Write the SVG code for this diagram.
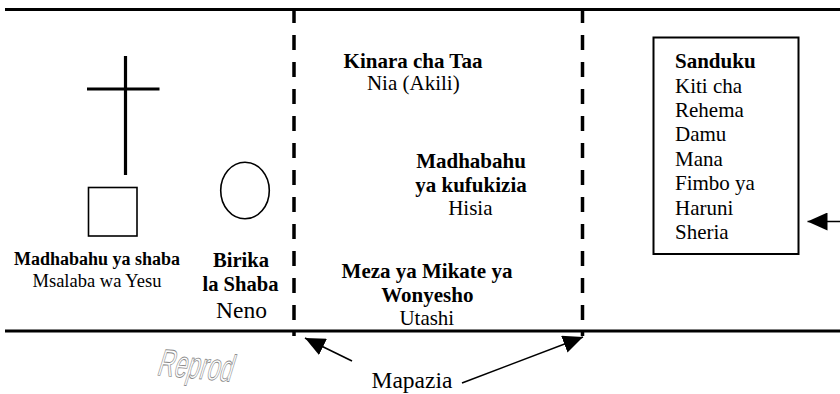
<svg xmlns="http://www.w3.org/2000/svg" width="840" height="394" viewBox="0 0 840 394">
  <defs>
    <style>
      .t { font-family: "Liberation Serif", "Times New Roman", serif; fill: #000; }
      .b { font-weight: bold; }
      .frame { stroke: #000; stroke-width: 3; fill: none; }
      .dash { stroke: #000; stroke-width: 3.5; stroke-dasharray: 15 12; fill: none; }
      .shape { stroke: #000; stroke-width: 1.6; fill: none; }
      .conn { stroke: #000; stroke-width: 1.6; fill: none; marker-end: url(#ah); }
    </style>
    <marker id="ah" markerUnits="userSpaceOnUse" markerWidth="20" markerHeight="18" refX="20" refY="9" orient="auto">
      <path d="M0,0 L20,9 L0,18 z" fill="#000"/>
    </marker>
  </defs>
  <rect width="840" height="394" fill="#fff"/>

  <g id="frame">
    <line class="frame" x1="5" y1="9.5" x2="840" y2="9.5"/>
    <line class="frame" x1="5" y1="331" x2="840" y2="331"/>
    <line class="dash" x1="294" y1="8" x2="294" y2="336"/>
    <line class="dash" x1="582.5" y1="8" x2="582.5" y2="336"/>
  </g>

  <g id="cross">
    <line x1="125.5" y1="56" x2="125.5" y2="175" stroke="#000" stroke-width="3.2"/>
    <line x1="87" y1="89" x2="159.5" y2="89" stroke="#000" stroke-width="3.2"/>
  </g>

  <g id="madhabahu-shaba">
    <rect class="shape" x="88.5" y="187.5" width="48.5" height="48.5"/>
    <text class="t b" x="97" y="265" font-size="18" text-anchor="middle">Madhabahu ya shaba</text>
    <text class="t" x="97" y="287" font-size="18.5" text-anchor="middle">Msalaba wa Yesu</text>
  </g>

  <g id="birika">
    <ellipse class="shape" cx="245" cy="190.5" rx="24.3" ry="28.3"/>
    <text class="t b" x="241" y="267" font-size="20.6" text-anchor="middle">Birika</text>
    <text class="t b" x="240.5" y="290.5" font-size="20.6" text-anchor="middle">la Shaba</text>
    <text class="t" x="241.5" y="318" font-size="23.5" text-anchor="middle">Neno</text>
  </g>

  <g id="kinara">
    <text class="t b" x="413" y="68" font-size="21" text-anchor="middle">Kinara cha Taa</text>
    <text class="t" x="413.3" y="90" font-size="21" text-anchor="middle">Nia (Akili)</text>
  </g>

  <g id="madhabahu-kufukizia">
    <text class="t b" x="471" y="167.5" font-size="21" text-anchor="middle">Madhabahu</text>
    <text class="t b" x="471" y="191.5" font-size="21" text-anchor="middle">ya kufukizia</text>
    <text class="t" x="470.3" y="215" font-size="21" text-anchor="middle">Hisia</text>
  </g>

  <g id="meza">
    <text class="t b" x="427" y="277.5" font-size="21" text-anchor="middle">Meza ya Mikate ya</text>
    <text class="t b" x="427.3" y="301.5" font-size="21" text-anchor="middle">Wonyesho</text>
    <text class="t" x="426.8" y="325" font-size="21" text-anchor="middle">Utashi</text>
  </g>

  <g id="sanduku">
    <rect x="653.5" y="37.5" width="145" height="216.5" fill="none" stroke="#000" stroke-width="2"/>
    <text class="t b" x="675" y="68.3" font-size="21">Sanduku</text>
    <text class="t" x="675" y="92.7" font-size="21">Kiti cha</text>
    <text class="t" x="675" y="116.7" font-size="21">Rehema</text>
    <text class="t" x="675" y="141" font-size="21">Damu</text>
    <text class="t" x="675" y="166" font-size="21">Mana</text>
    <text class="t" x="675" y="190" font-size="21">Fimbo ya</text>
    <text class="t" x="675" y="215" font-size="21">Haruni</text>
    <text class="t" x="675" y="239.3" font-size="21">Sheria</text>
  </g>

  <g id="mapazia">
    <text class="t" x="412" y="388" font-size="23.5" text-anchor="middle">Mapazia</text>
  </g>

  <g id="connectors">
    <line class="conn" x1="352" y1="361" x2="305" y2="338"/>
    <line class="conn" x1="462" y1="383" x2="583" y2="337"/>
    <line class="conn" x1="840" y1="221.5" x2="807.5" y2="221.5"/>
  </g>

  <g id="watermark">
    <text transform="translate(156,375) rotate(5) skewX(-12) scale(0.6,1)" font-family="Liberation Sans, Arial, sans-serif" font-size="38" fill="none" stroke="#8a8a8a" stroke-width="0.9">Reprod</text>
  </g>
</svg>
